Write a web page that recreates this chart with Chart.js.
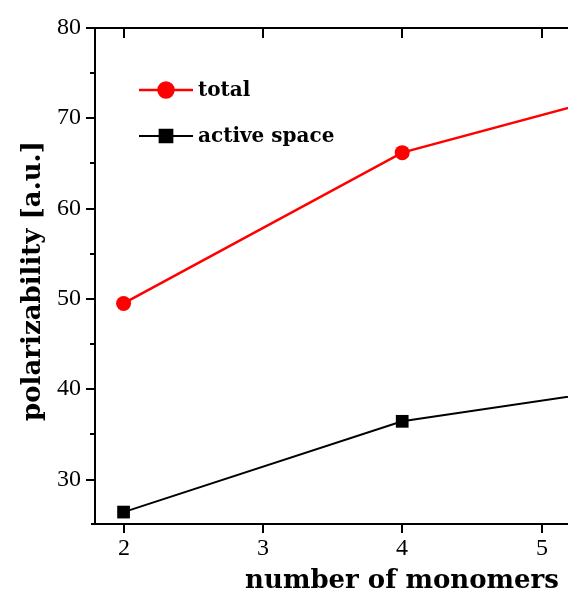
<!DOCTYPE html>
<html lang="en">
  <head>
    <meta charset="utf-8" />
    <script src="https://cdn.jsdelivr.net/npm/chart.js"></script>
    <title>Polarizability</title>
    <style>
      html,
      body {
        margin: 0;
        padding: 0;
        background: white;
        overflow: hidden;
      }

      canvas {
        display: block;
      }
    </style>
  </head>
  <body>
    <canvas id="myChart" width="568" height="591"></canvas>

    <script>
      // data
      var monomers = [2, 4, 6];
      var total = [49.5, 66.2, 74.5];
      var activeSpace = [26.4, 36.45, 41.0];

      var xTicks = [2, 3, 4, 5];
      var yTicks = [30, 40, 50, 60, 70, 80];
      var yMinorTicks = [35, 45, 55, 65, 75];

      var xTitle = "number of monomers";
      var yTitle = "polarizability [a.u.]";
      var seriesNames = ["total", "active space"];

      function points(ys) {
        return monomers.map(function (x, i) {
          return { x: x, y: ys[i] };
        });
      }

      // axes, ticks, titles and legend drawn by hand
      var axesPlugin = {
        id: "axesPlugin",
        afterDraw: function (chart) {
          var ctx = chart.ctx;
          var area = chart.chartArea;
          var xs = chart.scales.x;
          var ys = chart.scales.y;

          ctx.save();
          ctx.strokeStyle = "#000";
          ctx.fillStyle = "#000";
          ctx.lineWidth = 2;

          // frame lines
          ctx.beginPath();
          ctx.moveTo(86, area.top);
          ctx.lineTo(area.right, area.top);
          ctx.moveTo(area.left, area.top);
          ctx.lineTo(area.left, area.bottom);
          ctx.moveTo(91, area.bottom);
          ctx.lineTo(area.right, area.bottom);
          ctx.stroke();

          // y ticks (outward) and labels
          ctx.font = "24px 'Liberation Serif'";
          ctx.textAlign = "right";
          ctx.textBaseline = "middle";
          yTicks.forEach(function (v) {
            var py = Math.round(ys.getPixelForValue(v));
            ctx.beginPath();
            ctx.moveTo(86, py);
            ctx.lineTo(area.left, py);
            ctx.stroke();
            ctx.fillText(String(v), 81, py);
          });
          yMinorTicks.forEach(function (v) {
            var py = Math.round(ys.getPixelForValue(v));
            ctx.beginPath();
            ctx.moveTo(90, py);
            ctx.lineTo(area.left, py);
            ctx.stroke();
          });

          // x ticks: outward at bottom, inward at top
          ctx.textAlign = "center";
          ctx.textBaseline = "alphabetic";
          xTicks.forEach(function (v) {
            var px = Math.round(xs.getPixelForValue(v));
            ctx.beginPath();
            ctx.moveTo(px, area.bottom);
            ctx.lineTo(px, area.bottom + 9);
            ctx.moveTo(px, area.top);
            ctx.lineTo(px, area.top + 10);
            ctx.stroke();
            ctx.fillText(String(v), px, 555);
          });

          // axis titles
          ctx.font = "bold 26px 'DejaVu Serif'";
          ctx.fillText(xTitle, 402, 588);
          ctx.save();
          ctx.translate(40, 281);
          ctx.rotate(-Math.PI / 2);
          ctx.fillText(yTitle, 0, 0);
          ctx.restore();

          // legend
          var legendRows = [
            { y: 90, color: "#ff0000", style: "circle", r: 7.5, w: 2.5 },
            { y: 136, color: "#000000", style: "rect", r: 9, w: 2 }
          ];
          ctx.font = "bold 20px 'DejaVu Serif'";
          ctx.textAlign = "left";
          ctx.textBaseline = "middle";
          legendRows.forEach(function (row, i) {
            ctx.strokeStyle = row.color;
            ctx.fillStyle = row.color;
            ctx.lineWidth = row.w;
            ctx.beginPath();
            ctx.moveTo(139, row.y);
            ctx.lineTo(193, row.y);
            ctx.stroke();
            Chart.helpers.drawPoint(ctx, { pointStyle: row.style, radius: row.r, borderWidth: 1 }, 166, row.y);
            ctx.fill();
            ctx.fillStyle = "#000";
            ctx.fillText(seriesNames[i], 198, row.y + 1);
          });

          ctx.restore();
        }
      };

      var config = {
        type: "line",
        data: {
          datasets: [
            {
              label: seriesNames[0],
              data: points(total),
              borderColor: "#ff0000",
              backgroundColor: "#ff0000",
              borderWidth: 2.5,
              pointStyle: "circle",
              pointRadius: 7.5,
              pointBorderWidth: 0
            },
            {
              label: seriesNames[1],
              data: points(activeSpace),
              borderColor: "#000000",
              backgroundColor: "#000000",
              borderWidth: 2,
              pointStyle: "rect",
              pointRadius: 9,
              pointBorderWidth: 0
            }
          ]
        },
        options: {
          responsive: false,
          maintainAspectRatio: false,
          animation: false,
          devicePixelRatio: 1,
          layout: {
            autoPadding: false,
            padding: { left: 95, top: 28, right: 0, bottom: 67 }
          },
          plugins: {
            legend: { display: false },
            tooltip: { enabled: false }
          },
          scales: {
            x: { type: "linear", min: 1.795, max: 5.19, display: false },
            y: { type: "linear", min: 25.08, max: 80, display: false }
          }
        },
        plugins: [axesPlugin]
      };

      var ctx = document.getElementById("myChart").getContext("2d");
      var myChart = new Chart(ctx, config);
    </script>
  </body>
</html>
